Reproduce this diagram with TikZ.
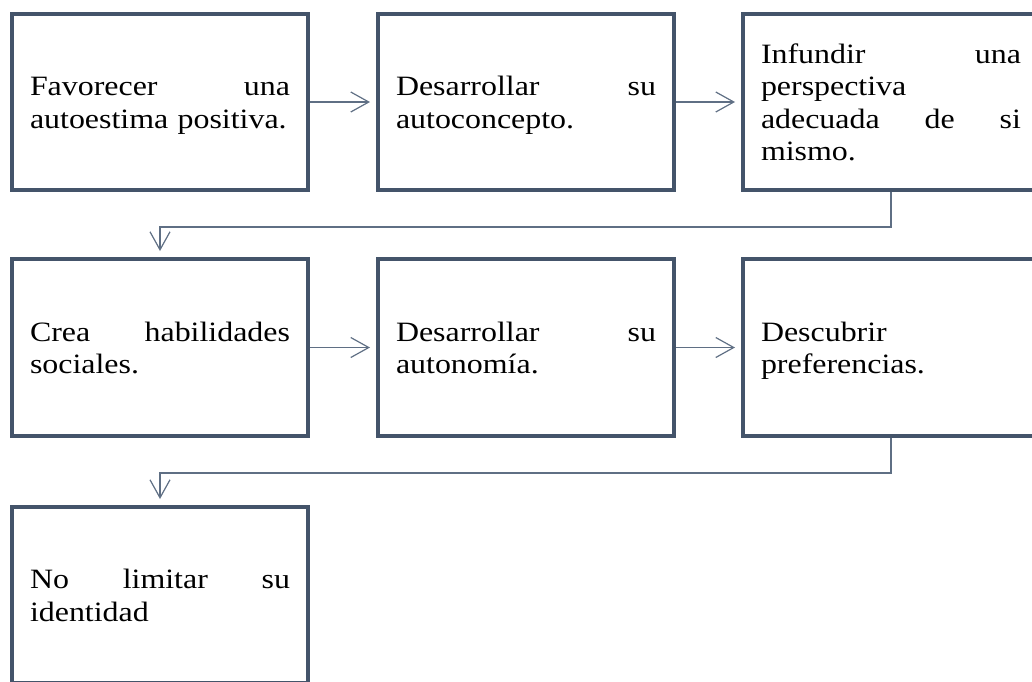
\documentclass[tikz,border=0pt]{standalone}
\usepackage{fontspec}
\setmainfont{Liberation Serif}[FakeStretch=1.14]
\usetikzlibrary{arrows.meta}
\definecolor{boxcol}{HTML}{44546A}
\definecolor{conncol}{HTML}{5F6F84}
\begin{document}
\begin{tikzpicture}[x=1pt,y=-1pt,
  flowbox/.style={draw=boxcol, line width=4pt, minimum width=296pt, inner sep=0pt, rectangle},
  boxtext/.style={anchor=north west, inner sep=0pt, outer sep=0pt, text width=260pt, align=left,
    font=\fontsize{28}{32.4}\selectfont, text=black},
  conn/.style={draw=conncol, line width=1.2pt, -{Straight Barb[length=18pt,width=20pt]}, shorten >=6pt}
]
\useasboundingbox (0,0) rectangle (1032,681);
\clip (0,0) rectangle (1032,681);
% boxes
\node[flowbox, minimum height=176pt] (b1) at (160,102) {};
\node[flowbox, minimum height=176pt] (b2) at (526,102) {};
\node[flowbox, minimum height=176pt] (b3) at (891,102) {};
\node[flowbox, minimum height=177pt] (b4) at (160,347.5) {};
\node[flowbox, minimum height=177pt] (b5) at (526,347.5) {};
\node[flowbox, minimum height=177pt] (b6) at (891,347.5) {};
\node[flowbox, minimum height=176pt] (b7) at (160,595) {};
% texts
\node[boxtext] (t1) at (30,73.1) {\strut Favorecer\hfill una\\autoestima positiva.};
\node[boxtext] (t2) at (396,73.1) {\strut Desarrollar\hfill su\\autoconcepto.};
\node[boxtext] (t3) at (761,40.7) {\strut Infundir\hfill una\\perspectiva\\adecuada\hfill de\hfill si\\mismo.};
\node[boxtext] (t4) at (30,318.6) {\strut Crea\hfill habilidades\\sociales.};
\node[boxtext] (t5) at (396,318.6) {\strut Desarrollar\hfill su\\autonomía.};
\node[boxtext] (t6) at (761,318.6) {\strut Descubrir\\preferencias.};
\node[boxtext] (t7) at (30,566.1) {\strut No\hfill limitar\hfill su\\identidad};
% connectors
\draw[conn] (b1.east) -- (b2.west);
\draw[conn] (b2.east) -- (b3.west);
\draw[conn] (b3.south) -- ++(0,35) -| (b4.north);
\draw[conn] (b4.east) -- (b5.west);
\draw[conn] (b5.east) -- (b6.west);
\draw[conn] (b6.south) -- ++(0,35) -| (b7.north);
\end{tikzpicture}
\end{document}
